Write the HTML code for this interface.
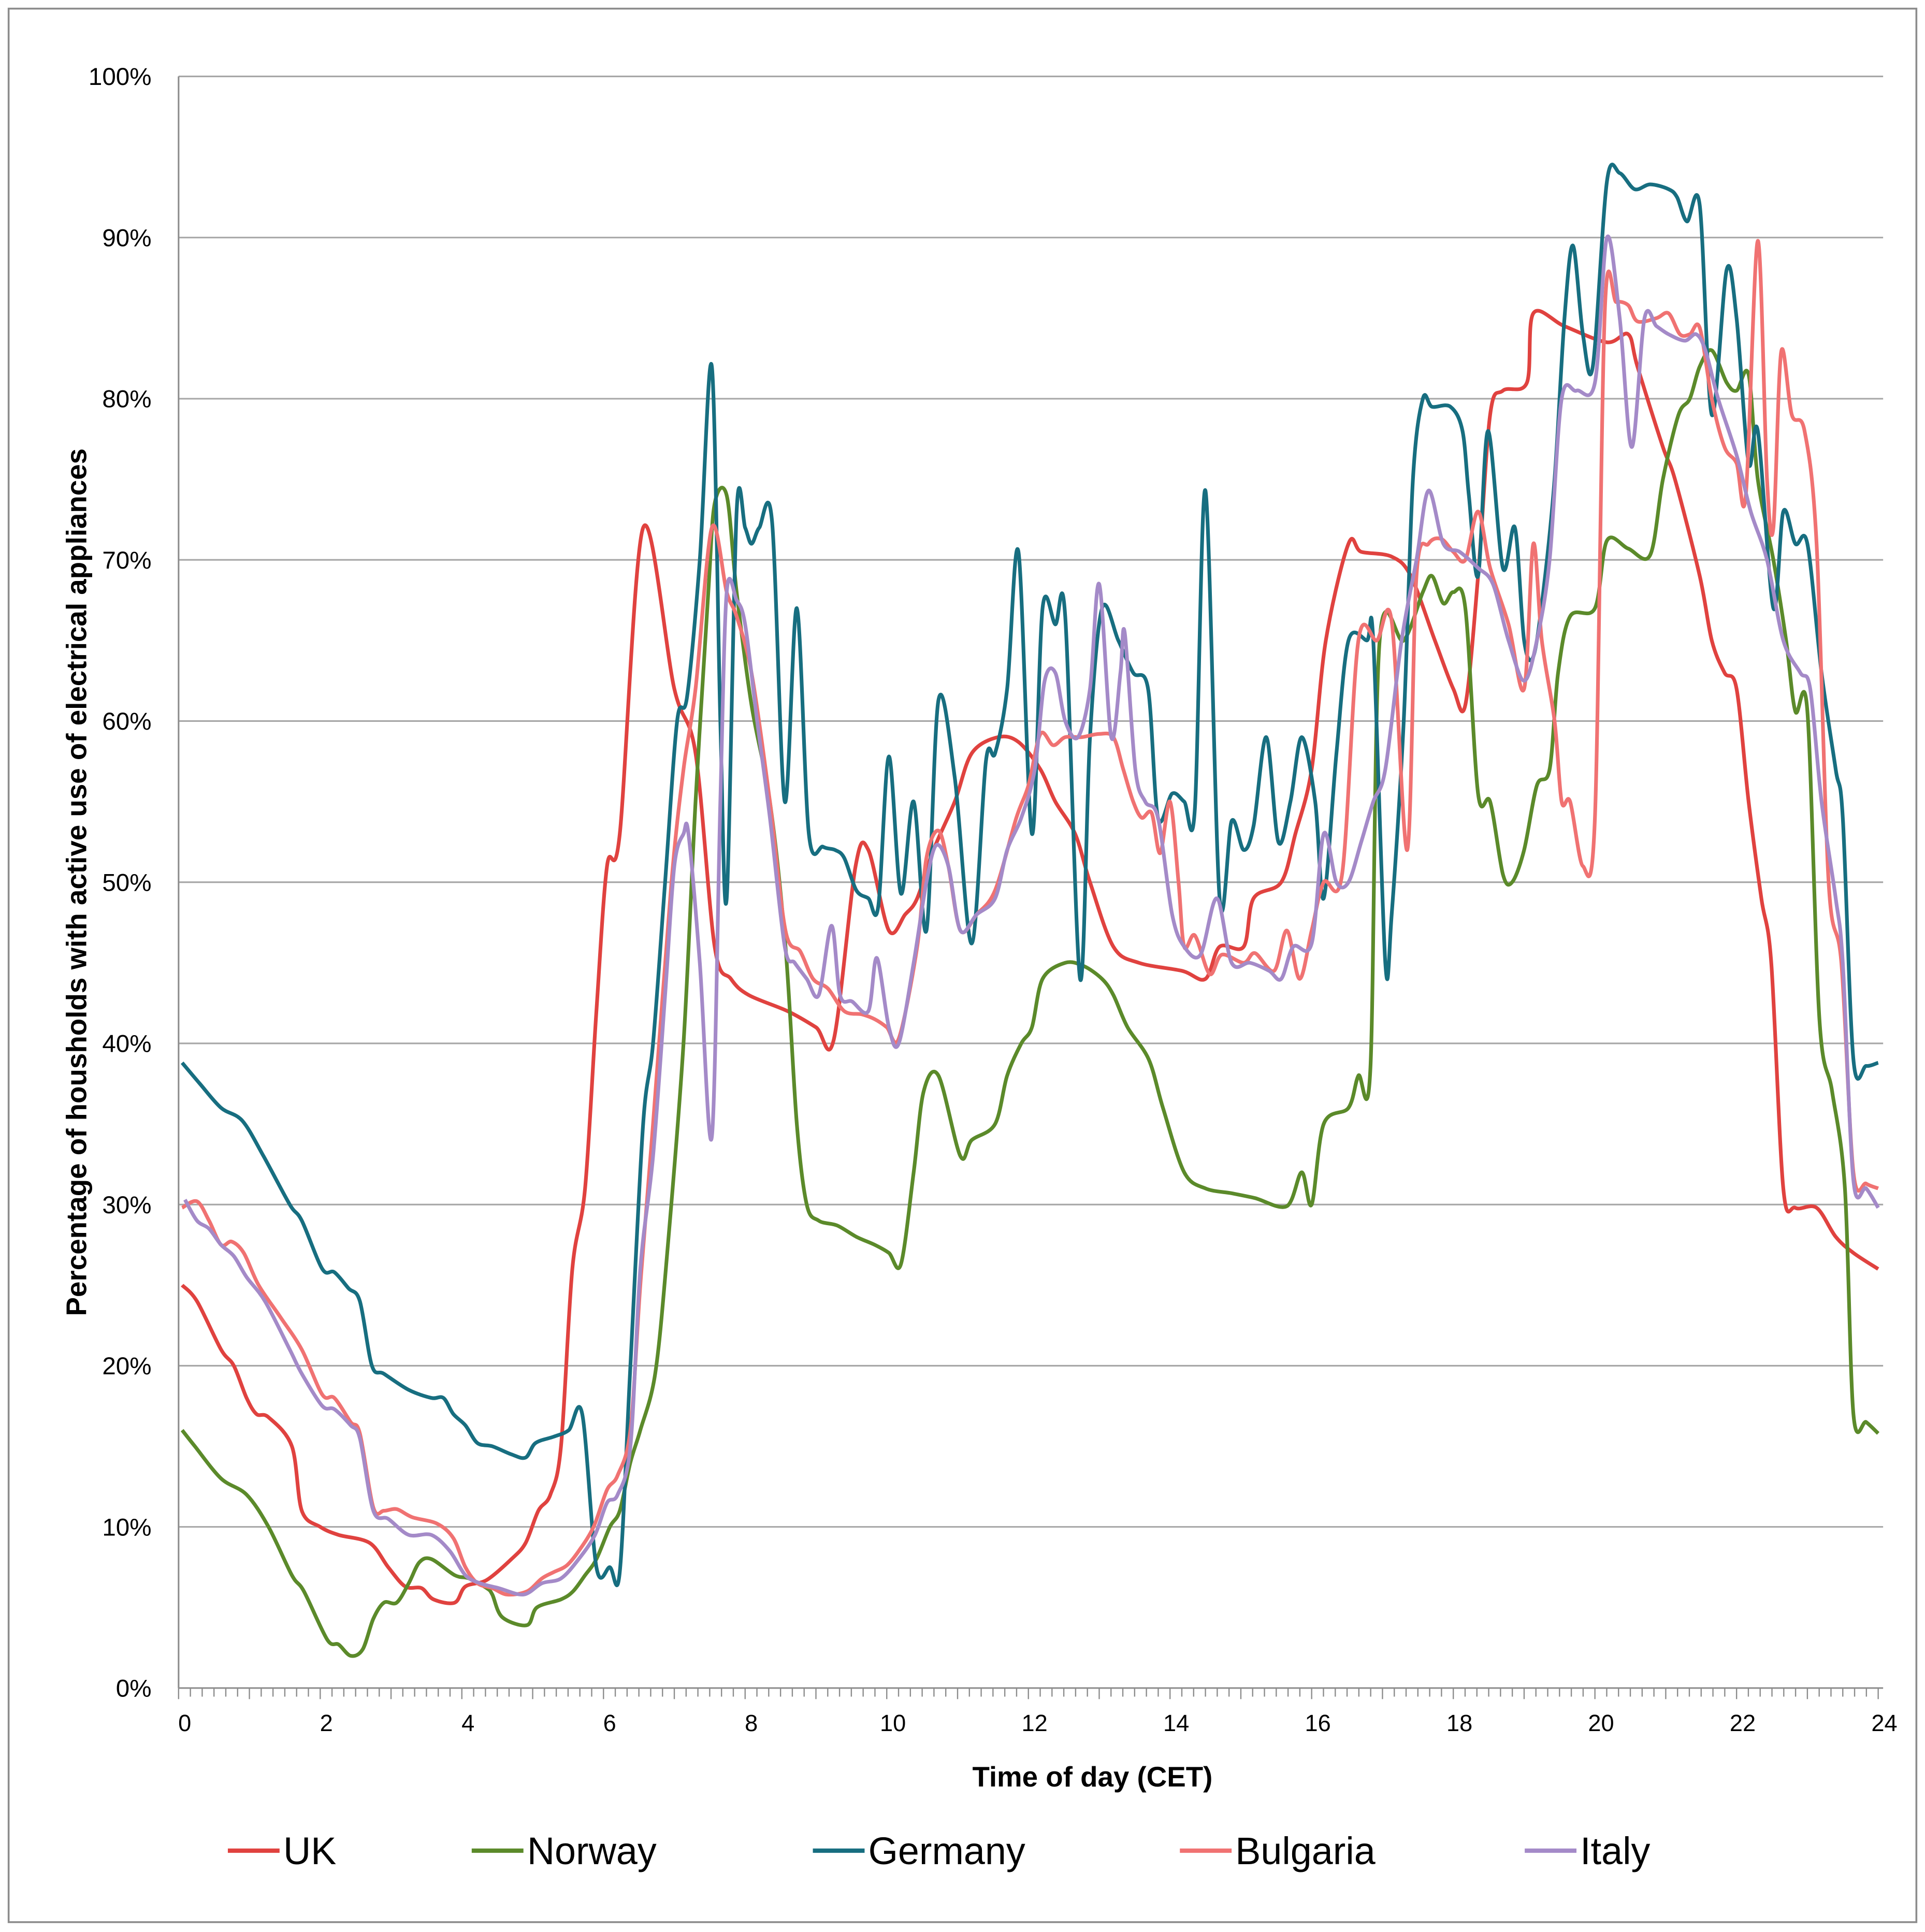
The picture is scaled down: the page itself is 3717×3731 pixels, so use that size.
<!DOCTYPE html>
<html><head><meta charset="utf-8"><style>
html,body{margin:0;padding:0;background:#fff;}
svg{display:block;font-family:"Liberation Sans",Arial,sans-serif;}
</style></head><body>
<svg id="chart" xmlns="http://www.w3.org/2000/svg" width="3717" height="3731" viewBox="0 0 1563 1568" preserveAspectRatio="none">
<rect x="0" y="0" width="1563" height="1568" fill="#fff"/>
<rect x="7" y="7" width="1549" height="1553" fill="none" stroke="#8c8c8c" stroke-width="1.5"/>
<g id="grid"></g>
<g id="axes"></g>
<g id="series"></g>
<text x="887" y="1450" text-anchor="middle" font-size="23" font-weight="bold" fill="#000">Time of day (CET)</text>
<text transform="translate(70,716) rotate(-90)" text-anchor="middle" font-size="23" font-weight="bold" fill="#000">Percentage of housholds with active use of electrical appliances</text>
<g id="legend"></g>
</svg>
<script>
const yTicks=[0,10,20,30,40,50,60,70,80,90,100];
const xTicks=[0,2,4,6,8,10,12,14,16,18,20,22,24];
const seriesNames=["UK","Norway","Germany","Bulgaria","Italy"];
const seriesColors=["#e0423f","#5b8a2a","#176e80","#f07272","#a48ac8"];
const ukT=[0.05,0.26,0.6,0.78,0.96,1.1,1.27,1.6,1.74,2.0,2.26,2.7,2.96,3.2,3.43,3.6,3.9,4.05,4.35,4.7,4.9,5.08,5.25,5.4,5.56,5.74,5.9,6.05,6.23,6.56,7.0,7.3,7.57,7.8,8.05,8.6,9.0,9.25,9.56,9.74,10.03,10.26,10.43,10.66,10.96,11.2,11.57,11.86,12.17,12.38,12.66,12.87,13.2,13.56,14.17,14.5,14.7,15.04,15.18,15.57,15.77,16.0,16.2,16.52,16.7,17.13,17.4,17.74,18.0,18.17,18.35,18.52,18.7,19.04,19.13,19.57,20.17,20.47,20.6,20.96,21.13,21.48,21.65,21.83,22.0,22.17,22.35,22.49,22.66,22.83,23.13,23.4,23.65,24];
const ukV=[25,24,21,20,18,17,16.8,15,11,10,9.5,9,7.5,6.3,6.2,5.5,5.3,6.3,6.7,8,9,11,12,15,26,31,42,51,53,72,62,58,46,44,43,42,41,40.2,51,52,47,48,49,52,55,58,59,58.7,57,55,53,50,46,45,44.5,44,46,46,49,50,53,57,65,71,70.5,70.2,69,65,62,61,69,79,80.5,81,85.3,84.5,83.5,84,82,77,75,69,65,63,62,55,49,45,31,29.8,29.8,28,27,26];
const noT=[0.05,0.23,0.6,0.96,1.27,1.6,1.77,2.1,2.26,2.43,2.6,2.75,2.9,3.08,3.25,3.4,3.57,3.9,4.1,4.35,4.43,4.57,4.92,5.06,5.4,5.57,5.74,5.9,6.09,6.23,6.38,6.52,6.73,6.9,7.13,7.3,7.48,7.57,7.74,7.88,8.09,8.35,8.57,8.73,8.87,9.04,9.3,9.57,9.83,10.03,10.2,10.38,10.52,10.73,11.04,11.2,11.53,11.7,11.9,12.05,12.2,12.52,12.78,13.04,13.2,13.4,13.7,13.9,14.2,14.5,14.87,15.2,15.65,15.86,16.0,16.17,16.52,16.66,16.83,16.96,17.3,17.57,17.7,17.86,18.0,18.17,18.35,18.52,18.7,18.83,19.0,19.18,19.36,19.48,19.65,20.0,20.17,20.47,20.78,20.96,21.18,21.34,21.48,21.65,21.86,22.0,22.17,22.3,22.52,22.7,22.83,23.0,23.17,23.35,23.53,23.65,23.83,24];
const noV=[16,15,13,12,10,7,6,3,2.7,2,2.4,4.3,5.3,5.3,6.5,7.8,8,7,6.8,6.2,5.8,4.4,3.9,5,5.5,6,7,8,10,11,14,16,19.5,27,40,55,68,73.5,74,68,61,55,46,35,30,29,28.7,28,27.5,27,26.3,32,37,38,33,34,35,38,40,41,44,45,44.8,44,43,41,39,36,32,31,30.7,30.4,29.9,32,30,35,36,38,38.5,65,65,68,69,67.3,68,67,55.5,55,50.5,50,52,56,57,63,66.5,67,71.2,70.7,70.3,75,79,80,82,83,81,80.5,81.5,75,70,65,60.6,60.6,41.5,37,31,17,16.5,15.8];
const deT=[0.05,0.3,0.6,0.9,1.2,1.57,1.74,2.03,2.2,2.4,2.56,2.73,2.9,3.25,3.57,3.74,3.88,4.05,4.22,4.43,4.7,4.9,5.04,5.3,5.51,5.7,5.9,6.09,6.23,6.38,6.56,6.7,6.87,7.04,7.18,7.36,7.53,7.65,7.74,7.88,8.0,8.09,8.2,8.38,8.56,8.73,8.9,9.1,9.27,9.4,9.57,9.74,9.88,10.03,10.2,10.38,10.56,10.73,10.96,11.2,11.4,11.53,11.7,11.86,12.05,12.2,12.38,12.52,12.73,12.87,13.04,13.27,13.48,13.69,13.83,14.03,14.2,14.35,14.5,14.7,14.87,15.04,15.18,15.36,15.53,15.7,15.86,16.05,16.17,16.35,16.52,16.78,16.87,17.04,17.13,17.3,17.43,17.57,17.7,17.96,18.13,18.22,18.35,18.49,18.7,18.87,19.0,19.13,19.27,19.43,19.57,19.69,19.83,19.97,20.17,20.35,20.56,20.78,21.04,21.16,21.3,21.48,21.65,21.86,22.0,22.17,22.3,22.52,22.66,22.83,23.0,23.2,23.4,23.5,23.65,23.83,24];
const deV=[38.8,37.5,36,35.2,33,30,29,26,25.8,24.8,24,20,19.5,18.5,18,18,17,16.3,15.2,15,14.5,14.3,15.2,15.6,16,17,7.5,7.5,7.2,20,35,40,50,60,61.5,70,82,60,49,73,72,71,72,72.4,55,67,53,52.2,52,51.5,49.5,49,48.5,57.8,49.3,55,47,61.3,56.5,46.2,57.5,58,62,70.5,53,67,66,66.5,44,59,67,65,63,62,54,55.5,55,54.5,74.3,49,53.8,52,53.5,59,52.5,55,59,55,49,58,65,65,65,45,48,60,75,80,79.5,79.5,78,74,69,78,69.5,72,65,64,68,75,85,89.5,84,82,93.5,94,93,93.3,93,92.5,91,92,79,88,85,76,78,67,73,71,71,63,57,54,39,38.6,38.8];
const bgT=[0.05,0.26,0.43,0.6,0.75,0.92,1.13,1.44,1.74,2.03,2.2,2.43,2.56,2.75,2.9,3.08,3.3,3.65,3.88,4.05,4.22,4.43,4.64,4.92,5.13,5.3,5.48,5.65,5.86,6.05,6.2,6.38,6.52,6.7,6.96,7.13,7.3,7.53,7.74,7.88,8.09,8.35,8.57,8.78,8.96,9.17,9.4,9.65,9.83,10.0,10.17,10.43,10.56,10.73,10.87,11.04,11.27,11.53,11.83,12.0,12.17,12.35,12.52,12.75,13.0,13.2,13.34,13.48,13.6,13.74,13.86,14.0,14.12,14.2,14.35,14.56,14.73,15.04,15.2,15.47,15.65,15.83,16.0,16.17,16.43,16.66,16.92,17.13,17.35,17.48,17.65,17.83,18.0,18.17,18.35,18.52,18.78,19.0,19.13,19.25,19.43,19.53,19.65,19.83,20.0,20.14,20.3,20.47,20.6,20.87,21.04,21.2,21.34,21.48,21.65,21.83,22.0,22.13,22.3,22.43,22.52,22.63,22.78,22.96,23.13,23.3,23.48,23.65,23.83,24];
const bgV=[29.8,30.2,29,27.5,27.7,27,25,23,21,18.2,18,16.5,15.8,11.2,11,11.1,10.6,10.2,9.3,7.5,6.5,6.2,5.8,6,6.8,7.2,7.6,8.5,10,12.3,13.2,16,25,35,50,57,62,72,68,66.5,63,55,47,45.7,44,43.4,42,41.8,41.5,41,40.3,46,51.5,53.2,51,47,48,49.5,54,56,59.2,58.5,59,59,59.2,59,57,55,54,54.3,51.8,55,50,46,46.7,44.3,45.5,45,45.6,44.5,47,44,47,50,50.5,65,65,66.2,52,69,71,71.3,70.5,70,73,69.5,66,62,71,65,60,55,55,51,54,85.5,86,85.8,84.8,85,85.3,84,84,84.4,80,77,76,74,89.8,75,72,82.9,79,78,71,50,45,32,31.3,31];
const itT=[0.09,0.26,0.43,0.6,0.78,0.96,1.22,1.57,1.74,2.03,2.2,2.43,2.56,2.75,2.96,3.25,3.57,3.83,4.05,4.26,4.52,4.87,5.13,5.4,5.65,5.88,6.05,6.2,6.38,6.52,6.7,6.87,7.0,7.13,7.2,7.36,7.53,7.65,7.74,7.88,8.0,8.17,8.35,8.56,8.7,8.87,9.04,9.22,9.34,9.51,9.74,9.86,10.03,10.17,10.38,10.56,10.7,10.87,11.04,11.27,11.53,11.7,11.9,12.09,12.23,12.38,12.52,12.7,12.87,13.0,13.17,13.3,13.36,13.51,13.65,13.83,14.03,14.2,14.43,14.66,14.87,15.13,15.4,15.57,15.74,16.0,16.17,16.35,16.52,16.7,16.87,17.04,17.27,17.48,17.65,17.86,18.09,18.35,18.56,18.78,19.0,19.18,19.36,19.53,19.74,20.0,20.17,20.35,20.52,20.7,20.87,21.04,21.27,21.43,21.56,21.74,22.0,22.2,22.43,22.66,22.9,23.04,23.2,23.4,23.5,23.65,23.83,24];
const itV=[30.3,29,28.5,27.5,26.8,25.5,24,21,19.5,17.5,17.3,16.3,15.5,11,10.5,9.5,9.5,8.5,7,6.5,6.2,5.8,6.5,6.8,8,9.5,11.5,12,15,26,33,43,51,53,53,45,34.2,55,68,67.5,66,60,54,46,45,44,43,47.3,43,42.6,42,45.3,41,40,45,50,52.3,51,47,48,49,52,54,57,62.5,63,60,59,62,68.5,59,63,65.5,57,55,54,48,46,45.5,49,45,45,44.5,44,46,46.2,53,50,50,52.5,55,57,65,70,74.3,71,70.5,69.5,68.5,65,62.5,65,70,80,80.5,81,90,85,77,85,84.5,84,83.6,84,83,80,76.5,73,70,65,63,62,55,49,45,31.5,31,29.8];
const seriesT=[ukT,noT,deT,bgT,itT];
const seriesV=[ukV,noV,deV,bgV,itV];

const X0=145,X1=1525,Y0=1370,Y1=62;
const xs=h=>X0+(X1-X0)*h/24;
const ys=v=>Y0-(Y0-Y1)*v/100;
const NS="http://www.w3.org/2000/svg";
function mk(tag,attrs,parent){const e=document.createElementNS(NS,tag);for(const k in attrs)e.setAttribute(k,attrs[k]);parent.appendChild(e);return e;}
const grid=document.getElementById('grid'),axes=document.getElementById('axes'),ser=document.getElementById('series'),leg=document.getElementById('legend');
yTicks.forEach(v=>{
  if(v>0){const l=mk('line',{x1:X0,x2:1529,y1:ys(v),y2:ys(v),stroke:'#a6a6a6','stroke-width':1.3},grid);
  
  }
  const t=mk('text',{x:123,y:ys(v)+7,'text-anchor':'end','font-size':20,fill:'#000'},axes);
  t.textContent=v+'%';
  
  
});
const ya=mk('line',{x1:X0,x2:X0,y1:Y1,y2:Y0,stroke:'#8c8c8c','stroke-width':1.3},axes);


const xa=mk('line',{x1:X0,x2:1529,y1:Y0,y2:Y0,stroke:'#8c8c8c','stroke-width':1.3},axes);


let tp='';
for(let i=0;i<=144;i++){const x=xs(i/6);tp+=`M${x},${Y0}V${Y0+(i%6===0?9:7)}`;}
const tk=mk('path',{d:tp,stroke:'#8c8c8c','stroke-width':1,fill:'none'},axes);


xTicks.forEach(h=>{
  const t=mk('text',{x:xs(h)+5,y:1405,'text-anchor':'middle','font-size':19,fill:'#000'},axes);
  t.textContent=h;
  
  
});
function smooth(T,V){
  const p=T.map((t,i)=>[xs(t),ys(V[i])]);
  let d=`M${p[0][0]},${p[0][1]}`;
  for(let i=0;i<p.length-1;i++){
    const a=p[i-1]||p[i],b=p[i],c=p[i+1],e=p[i+2]||c,k=0.16;
    d+=`C${b[0]+(c[0]-a[0])*k},${b[1]+(c[1]-a[1])*k} ${c[0]-(e[0]-b[0])*k},${c[1]-(e[1]-b[1])*k} ${c[0]},${c[1]}`;
  }
  return d;
}
seriesNames.forEach((n,i)=>{
  const p=mk('path',{d:smooth(seriesT[i],seriesV[i]),fill:'none',stroke:seriesColors[i],'stroke-width':3,'stroke-linejoin':'round'},ser);
  
  
});
const legX=[185,383,660,958,1238];
seriesNames.forEach((n,i)=>{
  const l=mk('line',{x1:legX[i],x2:legX[i]+42,y1:1502,y2:1502,stroke:seriesColors[i],'stroke-width':3.5},leg);
  
  
  const t=mk('text',{x:legX[i]+45,y:1513,'font-size':31,fill:'#000'},leg);
  t.textContent=n;
  
  
});
</script>
</body></html>
